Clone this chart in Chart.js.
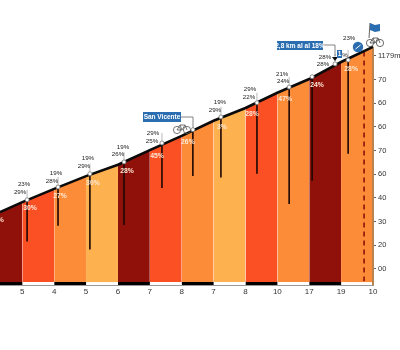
<!DOCTYPE html>
<html>
<head>
<meta charset="utf-8">
<style>
  html, body { margin: 0; padding: 0; background: #fff; }
  canvas { display: block; }
</style>
<script src="https://cdn.jsdelivr.net/npm/chart.js@4"></script>
</head>
<body>
<canvas id="profile" width="400" height="350"></canvas>
<script>
// tramos del perfil
const kmEdges = [0.3, 1, 2, 3, 4, 5, 6, 7, 8, 9, 10, 11, 12];
const elevations = [849, 870, 898, 925, 949, 980, 1010, 1042, 1069, 1101, 1130, 1166, 1198];
const segmentColors = ["#8f1109", "#fb4f24", "#fd8c38", "#fdb14f", "#8f1109", "#fb4f24", "#fd8c38", "#fdb14f", "#fb4f24", "#fd8c38", "#8f1109", "#fd8c38"];
const stripColors = ["#000", "#fff", "#000", "#fff", "#000", "#fff", "#000", "#fff", "#000", "#fff", "#000", "#fff"];

// eje inferior
const kmTicks = [1, 2, 3, 4, 5, 6, 7, 8, 9, 10, 11, 12];
const kmLabels = ["5", "4", "5", "6", "7", "8", "7", "8", "10", "17", "19", "10"];

// eje derecho
const altTicks = [729, 779, 829, 879, 929, 979, 1029, 1079, 1129, 1179];
const altLabels = ["00", "20", "30", "40", "60", "70", "60", "60", "70", "1179m"];

// puntos con marcador
const markKm = [1.15, 2.12, 3.12, 4.19, 5.38, 6.35, 7.23, 8.36, 9.37, 10.09, 10.81, 11.22];
const markAlt = [875, 902, 930, 955, 995, 1023, 1050, 1080, 1113, 1135, 1162, 1170];
const stemBottom = [787, 820, 770, 822, 900, 925, 922, 930, 866, 915, null, 972];
const upperText = ["23%", "19%", "19%", "19%", "29%", "", "19%", "29%", "21%", "", "28%", "23%"];
const lowerText = ["29%", "28%", "29%", "26%", "25%", "", "29%", "22%", "24%", "", "28%", ""];
const insideText = ["30%", "27%", "30%", "28%", "45%", "26%", "3%", "28%", "47%", "24%", "", "28%"];

const dashedKm = 11.72;
const dashedTop = 1188;
const dashedBottom = 703;
const groundAlt = 698;

const upperShift = [[-3, -15], [-2, -14], [-2, -15], [-1, -15], [-9, -10], [0, 0], [-1, -15], [-7, -13], [-7, -13], [0, 0], [-10, -7], [1, -22]];
const lowerShift = [[-7, -7], [-6, -6], [-6, -7], [-6, -8], [-10, -2], [0, 0], [-6, -7], [-8, -5], [-6, -6], [0, 0], [-12, 0], [0, 0]];
const insideShift = [[3, 8], [2, 9], [3, 9], [3, 9], [-5, 13], [-5, 12], [1, 10], [-5, 11], [-4, 12], [5, 8], [0, 0], [3, 9]];

const datasets = [];

kmEdges.slice(0, -1).forEach((km, i) => {
  datasets.push({
    data: [{ x: km, y: elevations[i] }, { x: kmEdges[i + 1], y: elevations[i + 1] }],
    backgroundColor: segmentColors[i],
    borderWidth: 0,
    pointRadius: 0,
    fill: { value: groundAlt },
    order: 10,
  });
  datasets.push({
    data: [{ x: km, y: groundAlt }, { x: kmEdges[i + 1], y: groundAlt }],
    borderColor: stripColors[i],
    borderWidth: 3,
    pointRadius: 0,
    order: 9,
  });
});

markKm.forEach((km, i) => {
  if (stemBottom[i] === null) return;
  datasets.push({
    data: [{ x: km, y: markAlt[i] }, { x: km, y: stemBottom[i] }],
    borderColor: "#1d0704",
    borderWidth: 1.6,
    pointRadius: 0,
    order: 8,
  });
});

datasets.push({
  data: [{ x: dashedKm, y: dashedTop }, { x: dashedKm, y: dashedBottom }],
  borderColor: "#8f1109",
  borderWidth: 1.6,
  borderDash: [5, 4],
  pointRadius: 0,
  order: 7,
});

// borde derecho del perfil
datasets.push({
  data: [{ x: 12, y: elevations[12] }, { x: 12, y: 695 }],
  borderColor: "#b9824f",
  borderWidth: 2,
  pointRadius: 0,
  clip: false,
  order: 6,
});

datasets.push({
  data: kmEdges.map((km, i) => ({ x: km, y: elevations[i] })),
  borderColor: "#0a0a0a",
  borderWidth: 2.6,
  pointRadius: 0,
  order: 5,
});

datasets.push({
  data: markKm.map((km, i) => ({ x: km, y: markAlt[i] })),
  showLine: false,
  pointRadius: 2,
  pointBackgroundColor: "#fff",
  pointBorderColor: "#777",
  pointBorderWidth: 0.8,
  order: 4,
});

function drawBike(ctx, x, y, color) {
  ctx.save();
  ctx.strokeStyle = color;
  ctx.lineWidth = 0.8;
  ctx.beginPath();
  ctx.arc(x - 5, y + 2, 3.6, 0, Math.PI * 2);
  ctx.moveTo(x + 8.6, y + 2);
  ctx.arc(x + 5, y + 2, 3.6, 0, Math.PI * 2);
  ctx.moveTo(x - 5, y + 2);
  ctx.lineTo(x - 2, y - 3);
  ctx.lineTo(x + 3, y - 3);
  ctx.lineTo(x + 5, y + 2);
  ctx.moveTo(x - 5, y + 2);
  ctx.lineTo(x, y + 2);
  ctx.lineTo(x + 3, y - 3);
  ctx.moveTo(x - 2, y - 3);
  ctx.lineTo(x, y + 2);
  ctx.stroke();
  ctx.restore();
}

function drawTag(ctx, text, left, top, width, height) {
  ctx.fillStyle = "#2a6db0";
  ctx.fillRect(left, top, width, height);
  ctx.fillStyle = "#fff";
  ctx.font = "bold 6.5px 'Liberation Sans'";
  ctx.textAlign = "center";
  ctx.textBaseline = "middle";
  ctx.fillText(text, left + width / 2, top + height / 2 + 0.5);
}

const annotations = {
  id: "annotations",
  afterDatasetsDraw(chart) {
    const ctx = chart.ctx;
    const xs = chart.scales.x;
    const ys = chart.scales.y;
    ctx.save();
    ctx.textBaseline = "middle";
    ctx.textAlign = "center";

    markKm.forEach((km, i) => {
      const px = xs.getPixelForValue(km);
      const py = ys.getPixelForValue(markAlt[i]);

      if (upperText[i]) {
        ctx.strokeStyle = "#999";
        ctx.lineWidth = 0.7;
        ctx.beginPath();
        ctx.moveTo(px, py - 2);
        ctx.lineTo(px, py - 10);
        ctx.stroke();
      }

      ctx.font = "6.2px 'Liberation Sans'";
      ctx.fillStyle = "#222";
      if (upperText[i]) ctx.fillText(upperText[i], px + upperShift[i][0], py + upperShift[i][1]);
      if (lowerText[i]) ctx.fillText(lowerText[i], px + lowerShift[i][0], py + lowerShift[i][1]);

      if (insideText[i]) {
        ctx.font = "bold 6.8px 'Liberation Sans'";
        ctx.fillStyle = "#ffe9d6";
        ctx.fillText(insideText[i], px + insideShift[i][0], py + insideShift[i][1]);
      }
    });

    // texto cortado a la izquierda
    ctx.font = "bold 6.8px 'Liberation Sans'";
    ctx.fillStyle = "#ffe9d6";
    ctx.fillText("28%", -3, 220);

    // San Vicente
    ctx.strokeStyle = "#666";
    ctx.lineWidth = 0.8;
    ctx.beginPath();
    ctx.moveTo(181, 117);
    ctx.lineTo(193, 117);
    ctx.lineTo(193, 128);
    ctx.stroke();
    drawTag(ctx, "San Vicente", 143, 112, 38, 10);
    drawBike(ctx, 182, 128, "#555");

    // 2,8 km
    ctx.beginPath();
    ctx.moveTo(323, 45);
    ctx.lineTo(335, 45);
    ctx.lineTo(335, 56);
    ctx.stroke();
    drawTag(ctx, "2,8 km al al 18%", 277, 41, 46, 9);
    ctx.fillStyle = "#111";
    ctx.beginPath();
    ctx.moveTo(332, 57);
    ctx.lineTo(338, 57);
    ctx.lineTo(335, 61);
    ctx.fill();

    // marca 1
    ctx.fillStyle = "#2a6db0";
    ctx.fillRect(337, 50, 5, 8);
    ctx.fillStyle = "#fff";
    ctx.font = "bold 6.5px 'Liberation Sans'";
    ctx.fillText("1", 339.5, 54.5);
    ctx.fillStyle = "#222";
    ctx.font = "6.2px 'Liberation Sans'";
    ctx.fillText("%", 345, 55);

    // circulo bici
    ctx.fillStyle = "#2a6db0";
    ctx.beginPath();
    ctx.arc(358, 47, 5.2, 0, Math.PI * 2);
    ctx.fill();
    ctx.strokeStyle = "#fff";
    ctx.lineWidth = 1;
    ctx.beginPath();
    ctx.moveTo(355.5, 49);
    ctx.lineTo(360.5, 45);
    ctx.stroke();

    // meta
    drawBike(ctx, 375, 41, "#444");
    ctx.strokeStyle = "#555";
    ctx.lineWidth = 0.9;
    ctx.beginPath();
    ctx.moveTo(370, 23);
    ctx.lineTo(369, 38);
    ctx.stroke();
    ctx.fillStyle = "#2a6db0";
    ctx.beginPath();
    ctx.moveTo(370, 23);
    ctx.lineTo(375, 25);
    ctx.lineTo(380, 24);
    ctx.lineTo(380, 31);
    ctx.lineTo(375, 32);
    ctx.lineTo(370, 30);
    ctx.fill();

    ctx.restore();
  },
};

new Chart(document.getElementById("profile").getContext("2d"), {
  type: "line",
  data: { datasets },
  plugins: [annotations],
  options: {
    responsive: false,
    animation: false,
    layout: { padding: 0, autoPadding: false },
    plugins: { legend: { display: false }, tooltip: { enabled: false } },
    scales: {
      x: {
        type: "linear",
        min: 0.3,
        max: 12,
        grid: { display: false, drawTicks: false, tickLength: 0 },
        border: { color: "#999", width: 1 },
        afterBuildTicks: (axis) => { axis.ticks = kmTicks.map(value => ({ value })); },
        afterFit: (axis) => {
          axis.height = 65;
          axis.paddingLeft = 0;
          axis.paddingRight = 0;
        },
        ticks: {
          autoSkip: false,
          maxRotation: 0,
          padding: 2,
          color: "#333",
          font: { family: "Liberation Sans", size: 8 },
          callback: (value) => kmLabels[kmTicks.indexOf(value)],
        },
      },
      y: {
        type: "linear",
        position: "right",
        min: 695,
        max: 1297,
        grid: { drawOnChartArea: false, drawTicks: true, tickLength: 3, tickColor: "#666" },
        border: { display: false },
        afterBuildTicks: (axis) => { axis.ticks = altTicks.map(value => ({ value })); },
        afterFit: (axis) => {
          axis.width = 27;
          axis.paddingTop = 0;
          axis.paddingBottom = 0;
        },
        ticks: {
          autoSkip: false,
          padding: 2,
          color: "#333",
          font: { family: "Liberation Sans", size: 7.5 },
          callback: (value) => altLabels[altTicks.indexOf(value)],
        },
      },
    },
  },
});
</script>
</body>
</html>
